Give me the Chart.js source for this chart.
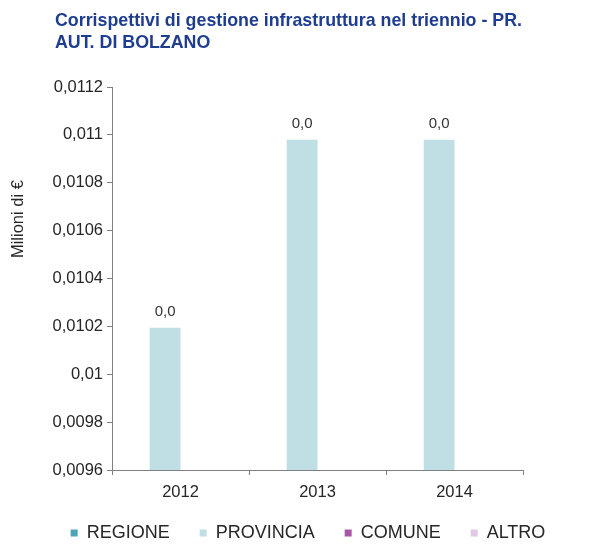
<!DOCTYPE html>
<html>
<head>
<meta charset="utf-8">
<script src="https://cdn.jsdelivr.net/npm/chart.js@4.4.1/dist/chart.umd.min.js"></script>
<style>
html,body{margin:0;padding:0;background:#fff;}
#wrap{position:relative;width:592px;height:544px;}
</style>
</head>
<body>
<div id="wrap"><canvas id="c" width="592" height="544"></canvas></div>
<script>
const titleLines = ["Corrispettivi di gestione infrastruttura nel triennio - PR.", "AUT. DI BOLZANO"];
const categories = ["2012", "2013", "2014"];
const seriesNames = ["REGIONE", "PROVINCIA", "COMUNE", "ALTRO"];
const regione = [null, null, null];
const provincia = [0.010194, 0.01098, 0.01098];
const comune = [null, null, null];
const altro = [null, null, null];
const yTicks = [0.0096, 0.0098, 0.01, 0.0102, 0.0104, 0.0106, 0.0108, 0.011, 0.0112];
const yTitle = "Milioni di €";
const colors = ["#4BA5B5", "#BFDFE4", "#A958A9", "#E2C6E5"];

const FONT = "'Liberation Sans', Arial, sans-serif";

const fmt = v => String(Number(v.toFixed(4))).replace('.', ',');

const titlePlugin = {
  id: 'customTitle',
  afterDraw(chart) {
    const ctx = chart.ctx;
    ctx.save();
    ctx.fillStyle = '#1F3D8F';
    ctx.font = "bold 19px " + FONT;
    ctx.textBaseline = 'alphabetic';
    ctx.textAlign = 'left';
    const w = ctx.measureText(titleLines[0]).width;
    const sx = 467 / w;
    titleLines.forEach((t, i) => {
      ctx.save();
      ctx.translate(55, 26 + i * 22);
      ctx.scale(sx, 1);
      ctx.fillText(t, 0, 0);
      ctx.restore();
    });
    // y-axis title
    const ca = chart.chartArea;
    ctx.save();
    ctx.fillStyle = '#262626';
    ctx.font = "16.5px " + FONT;
    ctx.textAlign = 'center';
    ctx.textBaseline = 'middle';
    ctx.translate(18, ca.top + (ca.bottom - ca.top) * 0.345);
    ctx.rotate(-Math.PI / 2);
    ctx.fillText(yTitle, 0, 0);
    ctx.restore();
    ctx.restore();
  }
};

const legendFitPlugin = {
  id: 'legendFit',
  beforeLayout(chart) {
    const lg = chart.legend;
    if (lg && !lg._trimmed) {
      const orig = lg.fit;
      lg.fit = function () { orig.call(this); this.height = Math.max(0, this.height - 8); };
      lg._trimmed = true;
    }
  }
};

const labelPlugin = {
  id: 'barLabels',
  afterDatasetsDraw(chart) {
    const ctx = chart.ctx;
    ctx.save();
    ctx.fillStyle = '#333333';
    ctx.font = "15px " + FONT;
    ctx.textAlign = 'center';
    ctx.textBaseline = 'bottom';
    chart.data.datasets.forEach((ds, di) => {
      const meta = chart.getDatasetMeta(di);
      meta.data.forEach((bar, i) => {
        const v = ds.data[i];
        if (v === null || v === undefined) return;
        ctx.fillText(v.toFixed(1).replace('.', ','), bar.x, bar.y - 8);
      });
    });
    ctx.restore();
  }
};

const datasets = [regione, provincia, comune, altro].map((d, i) => ({
  label: seriesNames[i],
  data: d,
  backgroundColor: colors[i],
  borderWidth: 0,
  categoryPercentage: 0.9,
  barPercentage: 1.0
}));

new Chart(document.getElementById('c'), {
  type: 'bar',
  data: { labels: categories, datasets },
  plugins: [titlePlugin, labelPlugin, legendFitPlugin],
  options: {
    responsive: false,
    animation: false,
    devicePixelRatio: 1,
    layout: { padding: { top: 87, right: 0, bottom: 0, left: 24 } },
    plugins: {
      title: { display: false },
      tooltip: { enabled: false },
      legend: {
        position: 'bottom',
        labels: {
          font: { family: FONT, size: 18 },
          color: '#262626',
          boxWidth: 7,
          boxHeight: 7,
          padding: 30
        }
      }
    },
    scales: {
      x: {
        afterFit: s => { s.height = 24; s._computeLabelArea = () => undefined; },
        border: { display: true, color: '#7F7F7F', width: 1 },
        grid: { display: true, drawOnChartArea: false, drawTicks: true, tickLength: 5, color: '#7F7F7F', offset: true },
        ticks: { font: { family: FONT, size: 16.5 }, color: '#262626', padding: 8 }
      },
      y: {
        min: 0.0096,
        max: 0.0112,
        afterBuildTicks: s => { s.ticks = yTicks.map(v => ({ value: v })); },
        afterFit: s => { s.width = 88; },
        border: { display: true, color: '#7F7F7F', width: 1 },
        grid: { display: true, drawOnChartArea: false, drawTicks: true, tickLength: 5, color: '#7F7F7F' },
        ticks: { font: { family: FONT, size: 16.5 }, color: '#262626', padding: 4, callback: v => fmt(v) }
      },
      yr: {
        position: 'right',
        display: true,
        afterFit: s => { s.width = 69; },
        border: { display: false },
        grid: { display: false },
        ticks: { display: false }
      }
    }
  }
});
</script>
</body>
</html>
